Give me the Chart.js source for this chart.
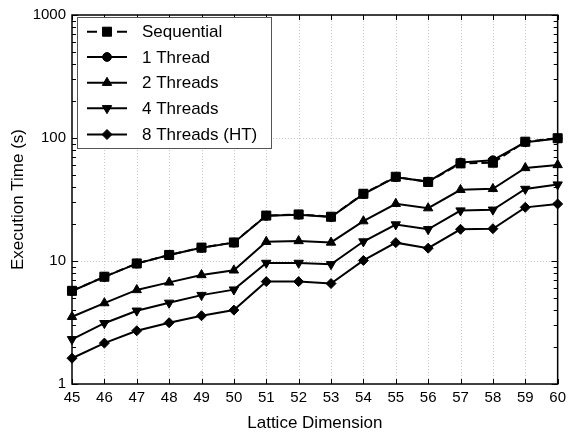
<!DOCTYPE html>
<html><head><meta charset="utf-8">
<script src="https://cdn.jsdelivr.net/npm/chart.js@4/dist/chart.umd.min.js"></script>
<style>html,body{margin:0;padding:0;background:#fff}#wrap{width:571px;height:436px}</style>
</head><body><div id="wrap"><canvas id="c" width="571" height="436"></canvas></div>
<script>
const categories = ["45","46","47","48","49","50","51","52","53","54","55","56","57","58","59","60"];
const sequential = [5.72,7.45,9.55,11.2,12.85,14.15,23.4,23.9,22.9,35.2,48.4,43.9,62.2,63.0,93.3,99.6];
const thread1    = [5.70,7.43,9.52,11.2,12.8,14.1,23.3,23.8,22.8,35.0,48.0,44.2,63.2,66.0,92.5,99.0];
const thread2    = [3.52,4.55,5.82,6.7,7.7,8.4,14.35,14.55,14.15,21.1,29.2,26.9,37.9,38.6,57.1,60.4];
const thread4    = [2.31,3.12,3.94,4.57,5.28,5.85,9.64,9.64,9.4,14.4,19.8,18.1,25.7,26.1,38.5,41.8];
const thread8    = [1.62,2.15,2.71,3.15,3.59,3.99,6.8,6.8,6.56,10.1,14.1,12.7,18.1,18.3,27.3,29.1];
const yTicks = [1,10,100,1000];
const seriesNames = ["Sequential","1 Thread","2 Threads","4 Threads","8 Threads (HT)"];

const FONT = "'Liberation Sans', Arial, Helvetica, sans-serif";
function ds(label, data, style, radius, rot, dash){
  return {label, data, borderColor:'#000', backgroundColor:'#000', borderWidth:2,
    pointStyle:style, pointRadius:radius, pointRotation:rot||0, pointBorderWidth:1,
    pointBackgroundColor:'#000', pointBorderColor:'#000', borderDash:dash||[], tension:0, fill:false};
}
const datasets = [
  ds(seriesNames[0], sequential, 'rect', 6.4, 0, [8,4]),
  ds(seriesNames[1], thread1, 'circle', 4.4),
  ds(seriesNames[2], thread2, 'triangle', 5.4, 0),
  ds(seriesNames[3], thread4, 'triangle', 5.4, 180),
  ds(seriesNames[4], thread8, 'rectRot', 5, 0)
];

const framePlugin = {
  id:'frame',
  beforeDatasetsDraw(chart){
    const {ctx, chartArea:a, scales:{x,y}} = chart;
    ctx.save();
    ctx.strokeStyle = '#c8c8c8'; ctx.lineWidth = 1; ctx.setLineDash([1,2]);
    categories.forEach((c,i)=>{
      const px = Math.round(x.getPixelForValue(i))+0.5;
      if (i===0 || i===categories.length-1) return;
      ctx.beginPath(); ctx.moveTo(px,a.top); ctx.lineTo(px,a.bottom); ctx.stroke();
    });
    [10,100].forEach(v=>{
      const py = Math.round(y.getPixelForValue(v))+0.5;
      ctx.beginPath(); ctx.moveTo(a.left,py); ctx.lineTo(a.right,py); ctx.stroke();
    });
    ctx.restore();
  },
  afterDatasetsDraw(chart){
    const {ctx, chartArea:a, scales:{x,y}} = chart;
    ctx.save();
    ctx.strokeStyle = '#000'; ctx.lineWidth = 1.5; ctx.setLineDash([]);
    ctx.strokeRect(a.left, a.top, a.right-a.left, a.bottom-a.top);
    ctx.lineWidth = 1;
    categories.forEach((c,i)=>{
      const px = Math.round(x.getPixelForValue(i))+0.5;
      ctx.beginPath(); ctx.moveTo(px,a.bottom); ctx.lineTo(px,a.bottom-5);
      ctx.moveTo(px,a.top); ctx.lineTo(px,a.top+5); ctx.stroke();
    });
    for (let d=1; d<1000; d*=10){
      for (let m=1; m<=10; m++){
        const v = d*m; if (v>1000) continue;
        const py = Math.round(y.getPixelForValue(v))+0.5;
        const len = (m===1||m===10) ? 6 : 4;
        ctx.beginPath(); ctx.moveTo(a.left,py); ctx.lineTo(a.left+len,py);
        ctx.moveTo(a.right,py); ctx.lineTo(a.right-len,py); ctx.stroke();
      }
    }
    ctx.restore();
  },
  afterDraw(chart){
    const ctx = chart.ctx;
    ctx.save();
    const bx=77, by=17, bw=194, bh=131;
    ctx.fillStyle='#fff'; ctx.fillRect(bx,by,bw,bh);
    ctx.strokeStyle='#555'; ctx.lineWidth=1; ctx.strokeRect(bx+0.5,by+0.5,bw,bh);
    const rows=[31.7,57,82.7,108.3,134.5];
    const pointOpts = [['rect',6.4,0],['circle',4.4,0],['triangle',5.4,0],['triangle',5.4,180],['rectRot',5,0]];
    rows.forEach((ry,i)=>{
      ctx.strokeStyle='#000'; ctx.lineWidth=2;
      if (i===0){
        ctx.beginPath(); ctx.moveTo(87,ry); ctx.lineTo(97,ry); ctx.moveTo(117,ry); ctx.lineTo(127,ry); ctx.stroke();
      } else {
        ctx.beginPath(); ctx.moveTo(87,ry); ctx.lineTo(127,ry); ctx.stroke();
      }
      ctx.fillStyle='#000'; ctx.lineWidth=1;
      const [st,r,rot]=pointOpts[i];
      Chart.helpers.drawPoint(ctx,{pointStyle:st,radius:r,rotation:rot,borderWidth:1},107,ry);
      ctx.fillStyle='#000'; ctx.font='17px '+FONT; ctx.textBaseline='middle'; ctx.textAlign='left';
      ctx.fillText(seriesNames[i],142,ry+1);
    });
    ctx.restore();
  }
};

new Chart(document.getElementById('c'), {
  type:'line',
  data:{labels:categories, datasets},
  options:{
    responsive:false, animation:false, devicePixelRatio:1,
    layout:{padding:{left:0,right:12,top:13,bottom:0}},
    plugins:{legend:{display:false}, tooltip:{enabled:false}},
    scales:{
      x:{type:'category', offset:false,
        grid:{display:false, drawTicks:false, tickLength:0}, border:{display:false},
        ticks:{color:'#000', font:{family:FONT,size:15}, padding:5, maxRotation:0, autoSkip:false},
        title:{display:true, text:'Lattice Dimension', color:'#000', font:{family:FONT,size:17}, padding:{top:2,bottom:2}},
        afterFit(s){ s.height = 52; }
      },
      y:{type:'logarithmic', min:1, max:1000,
        grid:{display:false, drawTicks:false, tickLength:0}, border:{display:false},
        afterBuildTicks(s){ s.ticks = yTicks.map(v=>({value:v, major:true})); },
        ticks:{color:'#000', font:{family:FONT,size:15}, padding:6, callback:(v)=>String(v)},
        title:{display:true, text:'Execution Time (s)', color:'#000', font:{family:FONT,size:17}, padding:{top:8,bottom:0}},
        afterFit(s){ s.width = 72; }
      }
    }
  },
  plugins:[framePlugin]
});
</script></body></html>
